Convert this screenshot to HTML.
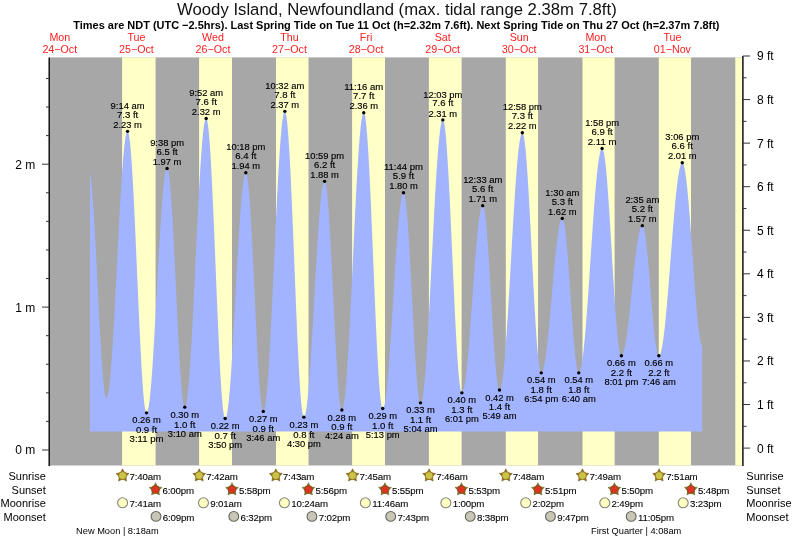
<!DOCTYPE html><html><head><meta charset="utf-8"><style>html,body{margin:0;padding:0;background:#fff;width:793px;height:539px;overflow:hidden}svg{display:block;will-change:transform}text{font-family:"Liberation Sans",sans-serif}</style></head><body>
<svg width="793" height="539" viewBox="0 0 793 539">
<text x="177.1" y="14.8" font-size="16.9" textLength="439.6" lengthAdjust="spacingAndGlyphs" fill="#111">Woody Island, Newfoundland (max. tidal range 2.38m 7.8ft)</text>
<text x="73.3" y="29.2" font-size="11.2" font-weight="bold" textLength="646.2" lengthAdjust="spacingAndGlyphs" fill="#000">Times are NDT (UTC &#8722;2.5hrs). Last Spring Tide on Tue 11 Oct (h=2.32m 7.6ft). Next Spring Tide on Thu 27 Oct (h=2.37m 7.8ft)</text>
<text x="59.8" y="41.4" font-size="10.7" text-anchor="middle" fill="#ff2020">Mon</text>
<text x="59.8" y="52.7" font-size="10.7" text-anchor="middle" fill="#ff2020">24&#8722;Oct</text>
<text x="136.4" y="41.4" font-size="10.7" text-anchor="middle" fill="#ff2020">Tue</text>
<text x="136.4" y="52.7" font-size="10.7" text-anchor="middle" fill="#ff2020">25&#8722;Oct</text>
<text x="213.0" y="41.4" font-size="10.7" text-anchor="middle" fill="#ff2020">Wed</text>
<text x="213.0" y="52.7" font-size="10.7" text-anchor="middle" fill="#ff2020">26&#8722;Oct</text>
<text x="289.5" y="41.4" font-size="10.7" text-anchor="middle" fill="#ff2020">Thu</text>
<text x="289.5" y="52.7" font-size="10.7" text-anchor="middle" fill="#ff2020">27&#8722;Oct</text>
<text x="366.1" y="41.4" font-size="10.7" text-anchor="middle" fill="#ff2020">Fri</text>
<text x="366.1" y="52.7" font-size="10.7" text-anchor="middle" fill="#ff2020">28&#8722;Oct</text>
<text x="442.7" y="41.4" font-size="10.7" text-anchor="middle" fill="#ff2020">Sat</text>
<text x="442.7" y="52.7" font-size="10.7" text-anchor="middle" fill="#ff2020">29&#8722;Oct</text>
<text x="519.2" y="41.4" font-size="10.7" text-anchor="middle" fill="#ff2020">Sun</text>
<text x="519.2" y="52.7" font-size="10.7" text-anchor="middle" fill="#ff2020">30&#8722;Oct</text>
<text x="595.8" y="41.4" font-size="10.7" text-anchor="middle" fill="#ff2020">Mon</text>
<text x="595.8" y="52.7" font-size="10.7" text-anchor="middle" fill="#ff2020">31&#8722;Oct</text>
<text x="672.4" y="41.4" font-size="10.7" text-anchor="middle" fill="#ff2020">Tue</text>
<text x="672.4" y="52.7" font-size="10.7" text-anchor="middle" fill="#ff2020">01&#8722;Nov</text>
<rect x="49.6" y="57.4" width="692.7" height="408.1" fill="#a7a7a7"/>
<rect x="122.1" y="57.4" width="33.5" height="408.1" fill="#ffffc8"/>
<rect x="199.1" y="57.4" width="32.9" height="408.1" fill="#ffffc8"/>
<rect x="276.0" y="57.4" width="32.5" height="408.1" fill="#ffffc8"/>
<rect x="352.1" y="57.4" width="32.9" height="408.1" fill="#ffffc8"/>
<rect x="428.9" y="57.4" width="32.7" height="408.1" fill="#ffffc8"/>
<rect x="505.8" y="57.4" width="32.2" height="408.1" fill="#ffffc8"/>
<rect x="582.5" y="57.4" width="32.1" height="408.1" fill="#ffffc8"/>
<rect x="658.8" y="57.4" width="32.2" height="408.1" fill="#ffffc8"/>
<rect x="735.3" y="57.4" width="6.7" height="408.1" fill="#ffffc8"/>
<path d="M90.00,431.50 L90.00,172.76 L90.25,174.11 L90.50,175.68 L90.75,177.46 L91.00,179.44 L91.25,181.63 L91.50,184.01 L91.75,186.59 L92.00,189.36 L92.25,192.31 L92.50,195.44 L92.75,198.73 L93.00,202.20 L93.25,205.82 L93.50,209.59 L93.75,213.51 L94.00,217.56 L94.25,221.74 L94.50,226.04 L94.75,230.46 L95.00,234.97 L95.25,239.58 L95.50,244.28 L95.75,249.05 L96.00,253.89 L96.25,258.79 L96.50,263.73 L96.75,268.72 L97.00,273.73 L97.25,278.76 L97.50,283.80 L97.75,288.84 L98.00,293.87 L98.25,298.88 L98.50,303.86 L98.75,308.80 L99.00,313.69 L99.25,318.53 L99.50,323.29 L99.75,327.98 L100.00,332.58 L100.25,337.08 L100.50,341.48 L100.75,345.77 L101.00,349.94 L101.25,353.98 L101.50,357.88 L101.75,361.63 L102.00,365.24 L102.25,368.68 L102.50,371.96 L102.75,375.07 L103.00,378.00 L103.25,380.75 L103.50,383.30 L103.75,385.67 L104.00,387.83 L104.25,389.79 L104.50,391.55 L104.75,393.09 L105.00,394.42 L105.25,395.54 L105.51,396.44 L105.76,397.11 L106.01,397.57 L106.26,397.81 L106.40,397.84 L106.51,397.82 L106.76,397.65 L107.01,397.29 L107.26,396.76 L107.51,396.03 L107.76,395.13 L108.01,394.05 L108.26,392.79 L108.51,391.35 L108.76,389.74 L109.01,387.96 L109.26,386.00 L109.51,383.88 L109.76,381.59 L110.01,379.15 L110.26,376.54 L110.51,373.78 L110.76,370.87 L111.01,367.82 L111.26,364.62 L111.51,361.28 L111.76,357.81 L112.01,354.21 L112.26,350.49 L112.51,346.65 L112.76,342.70 L113.01,338.64 L113.26,334.47 L113.51,330.21 L113.76,325.86 L114.01,321.43 L114.26,316.92 L114.51,312.33 L114.76,307.68 L115.01,302.97 L115.26,298.21 L115.51,293.40 L115.76,288.55 L116.01,283.67 L116.26,278.76 L116.51,273.84 L116.76,268.90 L117.01,263.95 L117.26,259.01 L117.51,254.07 L117.76,249.14 L118.01,244.24 L118.26,239.37 L118.51,234.53 L118.76,229.73 L119.01,224.98 L119.26,220.29 L119.51,215.65 L119.76,211.09 L120.01,206.59 L120.26,202.18 L120.51,197.85 L120.76,193.62 L121.01,189.48 L121.26,185.45 L121.51,181.52 L121.76,177.71 L122.01,174.02 L122.26,170.46 L122.51,167.02 L122.76,163.72 L123.01,160.56 L123.26,157.54 L123.51,154.67 L123.76,151.95 L124.01,149.38 L124.26,146.98 L124.51,144.73 L124.76,142.65 L125.01,140.74 L125.26,139.00 L125.51,137.44 L125.76,136.04 L126.01,134.83 L126.26,133.79 L126.51,132.94 L126.76,132.26 L127.01,131.77 L127.26,131.46 L127.51,131.34 L127.56,131.33 L127.76,131.41 L128.01,131.73 L128.26,132.29 L128.51,133.09 L128.76,134.12 L129.01,135.39 L129.26,136.90 L129.51,138.63 L129.76,140.60 L130.01,142.79 L130.26,145.20 L130.51,147.83 L130.76,150.67 L131.01,153.73 L131.26,156.98 L131.51,160.43 L131.76,164.07 L132.01,167.90 L132.26,171.90 L132.51,176.08 L132.76,180.42 L133.01,184.92 L133.26,189.56 L133.51,194.35 L133.76,199.27 L134.01,204.32 L134.26,209.48 L134.51,214.75 L134.76,220.12 L135.01,225.58 L135.26,231.11 L135.51,236.72 L135.76,242.39 L136.02,248.11 L136.27,253.86 L136.52,259.66 L136.77,265.47 L137.02,271.29 L137.27,277.11 L137.52,282.93 L137.77,288.73 L138.02,294.50 L138.27,300.23 L138.52,305.91 L138.77,311.53 L139.02,317.09 L139.27,322.57 L139.52,327.96 L139.77,333.26 L140.02,338.45 L140.27,343.53 L140.52,348.49 L140.77,353.32 L141.02,358.00 L141.27,362.54 L141.52,366.93 L141.77,371.15 L142.02,375.20 L142.27,379.08 L142.52,382.77 L142.77,386.27 L143.02,389.58 L143.27,392.69 L143.52,395.59 L143.77,398.28 L144.02,400.75 L144.27,403.00 L144.52,405.03 L144.77,406.83 L145.02,408.40 L145.27,409.73 L145.52,410.83 L145.77,411.70 L146.02,412.32 L146.27,412.70 L146.52,412.85 L146.54,412.85 L146.77,412.77 L147.02,412.52 L147.27,412.09 L147.52,411.49 L147.77,410.71 L148.02,409.75 L148.27,408.62 L148.52,407.32 L148.77,405.85 L149.02,404.21 L149.27,402.40 L149.52,400.43 L149.77,398.30 L150.02,396.02 L150.27,393.58 L150.52,390.99 L150.77,388.26 L151.02,385.38 L151.27,382.37 L151.52,379.22 L151.77,375.94 L152.02,372.54 L152.27,369.02 L152.52,365.38 L152.77,361.64 L153.02,357.79 L153.27,353.84 L153.52,349.80 L153.77,345.68 L154.02,341.48 L154.27,337.20 L154.52,332.85 L154.77,328.44 L155.02,323.98 L155.27,319.47 L155.52,314.92 L155.77,310.33 L156.02,305.71 L156.27,301.07 L156.52,296.42 L156.77,291.76 L157.02,287.09 L157.27,282.43 L157.52,277.79 L157.77,273.16 L158.02,268.56 L158.27,263.99 L158.52,259.45 L158.77,254.97 L159.02,250.53 L159.27,246.16 L159.52,241.85 L159.77,237.61 L160.02,233.45 L160.27,229.37 L160.52,225.38 L160.77,221.48 L161.02,217.69 L161.27,214.00 L161.52,210.43 L161.77,206.97 L162.02,203.63 L162.27,200.42 L162.52,197.34 L162.77,194.40 L163.02,191.60 L163.27,188.94 L163.52,186.43 L163.77,184.08 L164.02,181.88 L164.27,179.83 L164.52,177.95 L164.77,176.23 L165.02,174.68 L165.27,173.30 L165.52,172.09 L165.77,171.05 L166.02,170.19 L166.27,169.50 L166.53,168.99 L166.78,168.66 L167.03,168.50 L167.12,168.49 L167.28,168.53 L167.53,168.80 L167.78,169.30 L168.03,170.04 L168.28,171.00 L168.53,172.20 L168.78,173.63 L169.03,175.29 L169.28,177.17 L169.53,179.26 L169.78,181.58 L170.03,184.10 L170.28,186.83 L170.53,189.75 L170.78,192.88 L171.03,196.19 L171.28,199.68 L171.53,203.34 L171.78,207.18 L172.03,211.17 L172.28,215.31 L172.53,219.60 L172.78,224.03 L173.03,228.58 L173.28,233.24 L173.53,238.02 L173.78,242.89 L174.03,247.85 L174.28,252.89 L174.53,258.01 L174.78,263.18 L175.03,268.39 L175.28,273.65 L175.53,278.94 L175.78,284.24 L176.03,289.55 L176.28,294.85 L176.53,300.15 L176.78,305.41 L177.03,310.65 L177.28,315.84 L177.53,320.97 L177.78,326.03 L178.03,331.03 L178.28,335.93 L178.53,340.74 L178.78,345.45 L179.03,350.04 L179.28,354.50 L179.53,358.84 L179.78,363.04 L180.03,367.08 L180.28,370.97 L180.53,374.70 L180.78,378.25 L181.03,381.62 L181.28,384.81 L181.53,387.80 L181.78,390.60 L182.03,393.20 L182.28,395.58 L182.53,397.75 L182.78,399.71 L183.03,401.44 L183.28,402.95 L183.53,404.23 L183.78,405.27 L184.03,406.09 L184.28,406.67 L184.53,407.02 L184.77,407.13 L184.78,407.13 L185.03,407.03 L185.28,406.73 L185.53,406.23 L185.78,405.55 L186.03,404.67 L186.28,403.60 L186.53,402.34 L186.78,400.89 L187.03,399.25 L187.28,397.43 L187.53,395.43 L187.78,393.25 L188.03,390.89 L188.28,388.36 L188.53,385.66 L188.78,382.79 L189.03,379.76 L189.28,376.58 L189.53,373.24 L189.78,369.75 L190.03,366.11 L190.28,362.34 L190.53,358.43 L190.78,354.40 L191.03,350.23 L191.28,345.96 L191.53,341.56 L191.78,337.07 L192.03,332.47 L192.28,327.78 L192.53,323.00 L192.78,318.14 L193.03,313.20 L193.28,308.20 L193.53,303.13 L193.78,298.01 L194.03,292.85 L194.28,287.64 L194.53,282.40 L194.78,277.13 L195.03,271.84 L195.28,266.54 L195.53,261.24 L195.78,255.94 L196.03,250.64 L196.28,245.37 L196.53,240.12 L196.78,234.89 L197.03,229.71 L197.29,224.57 L197.54,219.48 L197.79,214.45 L198.04,209.49 L198.29,204.59 L198.54,199.78 L198.79,195.05 L199.04,190.41 L199.29,185.87 L199.54,181.44 L199.79,177.11 L200.04,172.90 L200.29,168.82 L200.54,164.85 L200.79,161.02 L201.04,157.33 L201.29,153.78 L201.54,150.38 L201.79,147.13 L202.04,144.04 L202.29,141.10 L202.54,138.34 L202.79,135.73 L203.04,133.31 L203.29,131.05 L203.54,128.97 L203.79,127.08 L204.04,125.37 L204.29,123.84 L204.54,122.50 L204.79,121.35 L205.04,120.39 L205.29,119.63 L205.54,119.05 L205.79,118.68 L206.04,118.49 L206.15,118.47 L206.29,118.51 L206.54,118.78 L206.79,119.31 L207.04,120.09 L207.29,121.12 L207.54,122.40 L207.79,123.93 L208.04,125.71 L208.29,127.73 L208.54,129.99 L208.79,132.49 L209.04,135.22 L209.29,138.17 L209.54,141.35 L209.79,144.75 L210.04,148.35 L210.29,152.16 L210.54,156.17 L210.79,160.37 L211.04,164.75 L211.29,169.31 L211.54,174.04 L211.79,178.93 L212.04,183.97 L212.29,189.16 L212.54,194.48 L212.79,199.93 L213.04,205.49 L213.29,211.16 L213.54,216.93 L213.79,222.79 L214.04,228.73 L214.29,234.73 L214.54,240.79 L214.79,246.90 L215.04,253.04 L215.29,259.21 L215.54,265.40 L215.79,271.59 L216.04,277.78 L216.29,283.95 L216.54,290.10 L216.79,296.20 L217.04,302.27 L217.29,308.27 L217.54,314.20 L217.79,320.06 L218.04,325.83 L218.29,331.51 L218.54,337.07 L218.79,342.52 L219.04,347.84 L219.29,353.03 L219.54,358.07 L219.79,362.96 L220.04,367.69 L220.29,372.25 L220.54,376.64 L220.79,380.84 L221.04,384.85 L221.29,388.66 L221.54,392.27 L221.79,395.66 L222.04,398.84 L222.29,401.80 L222.54,404.53 L222.79,407.03 L223.04,409.29 L223.29,411.31 L223.54,413.09 L223.79,414.62 L224.04,415.91 L224.29,416.94 L224.54,417.72 L224.79,418.25 L225.04,418.52 L225.18,418.56 L225.29,418.54 L225.54,418.38 L225.79,418.03 L226.04,417.51 L226.29,416.81 L226.54,415.94 L226.79,414.89 L227.04,413.67 L227.29,412.27 L227.54,410.71 L227.80,408.98 L228.05,407.09 L228.30,405.03 L228.55,402.82 L228.80,400.45 L229.05,397.93 L229.30,395.26 L229.55,392.45 L229.80,389.50 L230.05,386.41 L230.30,383.19 L230.55,379.84 L230.80,376.37 L231.05,372.78 L231.30,369.08 L231.55,365.28 L231.80,361.37 L232.05,357.37 L232.30,353.28 L232.55,349.10 L232.80,344.85 L233.05,340.53 L233.30,336.14 L233.55,331.69 L233.80,327.19 L234.05,322.65 L234.30,318.06 L234.55,313.45 L234.80,308.80 L235.05,304.14 L235.30,299.47 L235.55,294.79 L235.80,290.11 L236.05,285.44 L236.30,280.79 L236.55,276.15 L236.80,271.55 L237.05,266.98 L237.30,262.45 L237.55,257.97 L237.80,253.54 L238.05,249.18 L238.30,244.88 L238.55,240.66 L238.80,236.51 L239.05,232.45 L239.30,228.49 L239.55,224.62 L239.80,220.85 L240.05,217.20 L240.30,213.65 L240.55,210.23 L240.80,206.93 L241.05,203.75 L241.30,200.71 L241.55,197.81 L241.80,195.05 L242.05,192.44 L242.30,189.98 L242.55,187.67 L242.80,185.51 L243.05,183.52 L243.30,181.68 L243.55,180.02 L243.80,178.52 L244.05,177.19 L244.30,176.03 L244.55,175.05 L244.80,174.24 L245.05,173.61 L245.30,173.15 L245.55,172.87 L245.80,172.77 L245.82,172.77 L246.05,172.88 L246.30,173.23 L246.55,173.82 L246.80,174.65 L247.05,175.71 L247.30,177.02 L247.55,178.55 L247.80,180.32 L248.05,182.32 L248.30,184.53 L248.55,186.97 L248.80,189.62 L249.05,192.47 L249.30,195.53 L249.55,198.79 L249.80,202.23 L250.05,205.86 L250.30,209.66 L250.55,213.62 L250.80,217.75 L251.05,222.03 L251.30,226.45 L251.55,231.00 L251.80,235.68 L252.05,240.47 L252.30,245.37 L252.55,250.36 L252.80,255.44 L253.05,260.59 L253.30,265.80 L253.55,271.07 L253.80,276.38 L254.05,281.72 L254.30,287.09 L254.55,292.46 L254.80,297.83 L255.05,303.19 L255.30,308.53 L255.55,313.84 L255.80,319.10 L256.05,324.31 L256.30,329.45 L256.55,334.51 L256.80,339.49 L257.05,344.37 L257.30,349.15 L257.55,353.81 L257.80,358.35 L258.05,362.75 L258.30,367.01 L258.56,371.12 L258.81,375.06 L259.06,378.84 L259.31,382.44 L259.56,385.86 L259.81,389.09 L260.06,392.12 L260.31,394.95 L260.56,397.57 L260.81,399.97 L261.06,402.16 L261.31,404.12 L261.56,405.86 L261.81,407.36 L262.06,408.64 L262.31,409.67 L262.56,410.47 L262.81,411.02 L263.06,411.34 L263.26,411.42 L263.31,411.41 L263.56,411.27 L263.81,410.94 L264.06,410.40 L264.31,409.67 L264.56,408.74 L264.81,407.62 L265.06,406.30 L265.31,404.79 L265.56,403.09 L265.81,401.20 L266.06,399.13 L266.31,396.88 L266.56,394.44 L266.81,391.83 L267.06,389.05 L267.31,386.10 L267.56,382.98 L267.81,379.70 L268.06,376.26 L268.31,372.68 L268.56,368.94 L268.81,365.06 L269.06,361.05 L269.31,356.90 L269.56,352.63 L269.81,348.24 L270.06,343.73 L270.31,339.11 L270.56,334.39 L270.81,329.57 L271.06,324.66 L271.31,319.67 L271.56,314.60 L271.81,309.46 L272.06,304.26 L272.31,299.00 L272.56,293.69 L272.81,288.34 L273.06,282.95 L273.31,277.53 L273.56,272.09 L273.81,266.64 L274.06,261.18 L274.31,255.72 L274.56,250.27 L274.81,244.84 L275.06,239.42 L275.31,234.03 L275.56,228.68 L275.81,223.38 L276.06,218.12 L276.31,212.92 L276.56,207.79 L276.81,202.72 L277.06,197.74 L277.31,192.84 L277.56,188.03 L277.81,183.31 L278.06,178.70 L278.31,174.20 L278.56,169.81 L278.81,165.55 L279.06,161.41 L279.31,157.41 L279.56,153.54 L279.81,149.81 L280.06,146.24 L280.31,142.81 L280.56,139.55 L280.81,136.44 L281.06,133.50 L281.31,130.73 L281.56,128.13 L281.81,125.71 L282.06,123.46 L282.31,121.40 L282.56,119.53 L282.81,117.84 L283.06,116.35 L283.31,115.04 L283.56,113.93 L283.81,113.02 L284.06,112.30 L284.31,111.78 L284.56,111.45 L284.81,111.33 L284.85,111.33 L285.06,111.43 L285.31,111.78 L285.56,112.40 L285.81,113.27 L286.06,114.41 L286.31,115.79 L286.56,117.44 L286.81,119.33 L287.06,121.46 L287.31,123.84 L287.56,126.46 L287.81,129.32 L288.06,132.40 L288.31,135.71 L288.56,139.24 L288.81,142.98 L289.07,146.92 L289.32,151.07 L289.57,155.41 L289.82,159.93 L290.07,164.63 L290.32,169.51 L290.57,174.54 L290.82,179.72 L291.07,185.05 L291.32,190.52 L291.57,196.11 L291.82,201.81 L292.07,207.63 L292.32,213.54 L292.57,219.53 L292.82,225.60 L293.07,231.74 L293.32,237.93 L293.57,244.17 L293.82,250.44 L294.07,256.74 L294.32,263.04 L294.57,269.35 L294.82,275.65 L295.07,281.93 L295.32,288.19 L295.57,294.40 L295.82,300.56 L296.07,306.65 L296.32,312.68 L296.57,318.62 L296.82,324.47 L297.07,330.22 L297.32,335.85 L297.57,341.36 L297.82,346.75 L298.07,351.99 L298.32,357.08 L298.57,362.01 L298.82,366.78 L299.07,371.37 L299.32,375.78 L299.57,380.00 L299.82,384.02 L300.07,387.84 L300.32,391.45 L300.57,394.84 L300.82,398.01 L301.07,400.95 L301.32,403.66 L301.57,406.13 L301.82,408.36 L302.07,410.34 L302.32,412.08 L302.57,413.56 L302.82,414.79 L303.07,415.76 L303.32,416.48 L303.57,416.93 L303.82,417.12 L303.88,417.13 L304.07,417.08 L304.32,416.87 L304.57,416.49 L304.82,415.94 L305.07,415.22 L305.32,414.33 L305.57,413.28 L305.82,412.06 L306.07,410.68 L306.32,409.14 L306.57,407.44 L306.82,405.58 L307.07,403.57 L307.32,401.41 L307.57,399.11 L307.82,396.65 L308.07,394.06 L308.32,391.33 L308.57,388.47 L308.82,385.48 L309.07,382.37 L309.32,379.13 L309.57,375.78 L309.82,372.32 L310.07,368.76 L310.32,365.09 L310.57,361.33 L310.82,357.48 L311.07,353.55 L311.32,349.53 L311.57,345.45 L311.82,341.30 L312.07,337.08 L312.32,332.82 L312.57,328.50 L312.82,324.14 L313.07,319.75 L313.32,315.33 L313.57,310.88 L313.82,306.42 L314.07,301.94 L314.32,297.47 L314.57,292.99 L314.82,288.52 L315.07,284.07 L315.32,279.65 L315.57,275.24 L315.82,270.88 L316.07,266.55 L316.32,262.28 L316.57,258.05 L316.82,253.89 L317.07,249.79 L317.32,245.76 L317.57,241.81 L317.82,237.94 L318.07,234.16 L318.32,230.47 L318.57,226.89 L318.82,223.41 L319.07,220.03 L319.32,216.77 L319.58,213.63 L319.83,210.62 L320.08,207.73 L320.33,204.97 L320.58,202.35 L320.83,199.87 L321.08,197.53 L321.33,195.34 L321.58,193.30 L321.83,191.41 L322.08,189.68 L322.33,188.11 L322.58,186.69 L322.83,185.44 L323.08,184.36 L323.33,183.43 L323.58,182.68 L323.83,182.09 L324.08,181.67 L324.33,181.43 L324.57,181.35 L324.58,181.35 L324.83,181.48 L325.08,181.84 L325.33,182.44 L325.58,183.27 L325.83,184.34 L326.08,185.63 L326.33,187.15 L326.58,188.90 L326.83,190.87 L327.08,193.05 L327.33,195.45 L327.58,198.05 L327.83,200.86 L328.08,203.86 L328.33,207.05 L328.58,210.42 L328.83,213.97 L329.08,217.69 L329.33,221.57 L329.58,225.60 L329.83,229.78 L330.08,234.10 L330.33,238.54 L330.58,243.10 L330.83,247.76 L331.08,252.53 L331.33,257.39 L331.58,262.32 L331.83,267.33 L332.08,272.39 L332.33,277.50 L332.58,282.65 L332.83,287.82 L333.08,293.01 L333.33,298.21 L333.58,303.40 L333.83,308.58 L334.08,313.73 L334.33,318.84 L334.58,323.90 L334.83,328.91 L335.08,333.84 L335.33,338.70 L335.58,343.47 L335.83,348.14 L336.08,352.70 L336.33,357.15 L336.58,361.46 L336.83,365.64 L337.08,369.68 L337.33,373.56 L337.58,377.29 L337.83,380.84 L338.08,384.22 L338.33,387.41 L338.58,390.42 L338.83,393.23 L339.08,395.83 L339.33,398.23 L339.58,400.42 L339.83,402.39 L340.08,404.15 L340.33,405.67 L340.58,406.97 L340.83,408.04 L341.08,408.88 L341.33,409.49 L341.58,409.85 L341.83,409.99 L341.85,409.99 L342.08,409.90 L342.33,409.63 L342.58,409.16 L342.83,408.51 L343.08,407.66 L343.33,406.63 L343.58,405.41 L343.83,404.01 L344.08,402.42 L344.33,400.65 L344.58,398.70 L344.83,396.58 L345.08,394.28 L345.33,391.81 L345.58,389.17 L345.83,386.37 L346.08,383.40 L346.33,380.28 L346.58,377.01 L346.83,373.59 L347.08,370.02 L347.33,366.32 L347.58,362.48 L347.83,358.51 L348.08,354.41 L348.33,350.20 L348.58,345.87 L348.83,341.43 L349.08,336.89 L349.33,332.25 L349.58,327.52 L349.83,322.71 L350.08,317.82 L350.34,312.85 L350.59,307.82 L350.84,302.73 L351.09,297.58 L351.34,292.39 L351.59,287.16 L351.84,281.89 L352.09,276.60 L352.34,271.29 L352.59,265.97 L352.84,260.64 L353.09,255.31 L353.34,249.99 L353.59,244.69 L353.84,239.40 L354.09,234.15 L354.34,228.93 L354.59,223.75 L354.84,218.62 L355.09,213.54 L355.34,208.53 L355.59,203.58 L355.84,198.71 L356.09,193.92 L356.34,189.21 L356.59,184.60 L356.84,180.09 L357.09,175.68 L357.34,171.38 L357.59,167.20 L357.84,163.14 L358.09,159.20 L358.34,155.40 L358.59,151.73 L358.84,148.20 L359.09,144.82 L359.34,141.59 L359.59,138.51 L359.84,135.59 L360.09,132.84 L360.34,130.24 L360.59,127.82 L360.84,125.57 L361.09,123.49 L361.34,121.59 L361.59,119.87 L361.84,118.33 L362.09,116.98 L362.34,115.81 L362.59,114.83 L362.84,114.04 L363.09,113.43 L363.34,113.02 L363.59,112.80 L363.76,112.76 L363.84,112.77 L364.09,112.98 L364.34,113.45 L364.59,114.16 L364.84,115.13 L365.09,116.35 L365.34,117.81 L365.59,119.52 L365.84,121.47 L366.09,123.66 L366.34,126.08 L366.59,128.74 L366.84,131.62 L367.09,134.72 L367.34,138.04 L367.59,141.56 L367.84,145.29 L368.09,149.22 L368.34,153.34 L368.59,157.64 L368.84,162.12 L369.09,166.77 L369.34,171.58 L369.59,176.54 L369.84,181.65 L370.09,186.89 L370.34,192.25 L370.59,197.74 L370.84,203.33 L371.09,209.02 L371.34,214.80 L371.59,220.66 L371.84,226.58 L372.09,232.57 L372.34,238.60 L372.59,244.67 L372.84,250.77 L373.09,256.88 L373.34,263.00 L373.59,269.12 L373.84,275.22 L374.09,281.30 L374.34,287.34 L374.59,293.33 L374.84,299.27 L375.09,305.15 L375.34,310.95 L375.59,316.66 L375.84,322.27 L376.09,327.79 L376.34,333.18 L376.59,338.45 L376.84,343.59 L377.09,348.59 L377.34,353.43 L377.59,358.12 L377.84,362.64 L378.09,366.98 L378.34,371.14 L378.59,375.12 L378.84,378.90 L379.09,382.47 L379.34,385.84 L379.59,388.99 L379.84,391.92 L380.09,394.63 L380.34,397.11 L380.59,399.35 L380.85,401.36 L381.10,403.12 L381.35,404.65 L381.60,405.92 L381.85,406.95 L382.10,407.72 L382.35,408.25 L382.60,408.52 L382.74,408.56 L382.85,408.54 L383.10,408.40 L383.35,408.10 L383.60,407.65 L383.85,407.05 L384.10,406.30 L384.35,405.39 L384.60,404.34 L384.85,403.13 L385.10,401.78 L385.35,400.29 L385.60,398.65 L385.85,396.88 L386.10,394.96 L386.35,392.91 L386.60,390.73 L386.85,388.43 L387.10,385.99 L387.35,383.44 L387.60,380.76 L387.85,377.98 L388.10,375.08 L388.35,372.07 L388.60,368.97 L388.85,365.76 L389.10,362.46 L389.35,359.08 L389.60,355.61 L389.85,352.06 L390.10,348.44 L390.35,344.75 L390.60,341.00 L390.85,337.19 L391.10,333.33 L391.35,329.42 L391.60,325.47 L391.85,321.49 L392.10,317.48 L392.35,313.44 L392.60,309.38 L392.85,305.31 L393.10,301.24 L393.35,297.16 L393.60,293.09 L393.85,289.03 L394.10,284.98 L394.35,280.96 L394.60,276.97 L394.85,273.01 L395.10,269.09 L395.35,265.21 L395.60,261.39 L395.85,257.62 L396.10,253.92 L396.35,250.28 L396.60,246.71 L396.85,243.22 L397.10,239.81 L397.35,236.49 L397.60,233.25 L397.85,230.12 L398.10,227.09 L398.35,224.16 L398.60,221.34 L398.85,218.63 L399.10,216.04 L399.35,213.58 L399.60,211.23 L399.85,209.02 L400.10,206.93 L400.35,204.98 L400.60,203.17 L400.85,201.49 L401.10,199.96 L401.35,198.57 L401.60,197.32 L401.85,196.23 L402.10,195.28 L402.35,194.48 L402.60,193.84 L402.85,193.34 L403.10,193.00 L403.35,192.82 L403.53,192.78 L403.60,192.79 L403.85,192.97 L404.10,193.37 L404.35,193.99 L404.60,194.84 L404.85,195.90 L405.10,197.18 L405.35,198.68 L405.60,200.39 L405.85,202.30 L406.10,204.42 L406.35,206.74 L406.60,209.25 L406.85,211.95 L407.10,214.83 L407.35,217.89 L407.60,221.12 L407.85,224.52 L408.10,228.07 L408.35,231.77 L408.60,235.61 L408.85,239.58 L409.10,243.68 L409.35,247.89 L409.60,252.21 L409.85,256.62 L410.10,261.13 L410.35,265.71 L410.60,270.36 L410.85,275.07 L411.10,279.83 L411.35,284.62 L411.61,289.44 L411.86,294.29 L412.11,299.13 L412.36,303.98 L412.61,308.81 L412.86,313.62 L413.11,318.40 L413.36,323.13 L413.61,327.81 L413.86,332.42 L414.11,336.96 L414.36,341.42 L414.61,345.78 L414.86,350.04 L415.11,354.20 L415.36,358.23 L415.61,362.13 L415.86,365.89 L416.11,369.51 L416.36,372.98 L416.61,376.28 L416.86,379.42 L417.11,382.39 L417.36,385.17 L417.61,387.77 L417.86,390.17 L418.11,392.38 L418.36,394.39 L418.61,396.19 L418.86,397.79 L419.11,399.17 L419.36,400.33 L419.61,401.27 L419.86,402.00 L420.11,402.50 L420.36,402.78 L420.54,402.84 L420.61,402.84 L420.86,402.70 L421.11,402.40 L421.36,401.91 L421.61,401.26 L421.86,400.42 L422.11,399.42 L422.36,398.24 L422.61,396.89 L422.86,395.38 L423.11,393.70 L423.36,391.85 L423.61,389.84 L423.86,387.67 L424.11,385.35 L424.36,382.87 L424.61,380.24 L424.86,377.46 L425.11,374.54 L425.36,371.47 L425.61,368.27 L425.86,364.94 L426.11,361.48 L426.36,357.89 L426.61,354.18 L426.86,350.36 L427.11,346.43 L427.36,342.39 L427.61,338.25 L427.86,334.02 L428.11,329.69 L428.36,325.28 L428.61,320.79 L428.86,316.23 L429.11,311.60 L429.36,306.90 L429.61,302.15 L429.86,297.35 L430.11,292.50 L430.36,287.62 L430.61,282.70 L430.86,277.76 L431.11,272.79 L431.36,267.82 L431.61,262.83 L431.86,257.84 L432.11,252.86 L432.36,247.88 L432.61,242.93 L432.86,237.99 L433.11,233.09 L433.36,228.22 L433.61,223.39 L433.86,218.61 L434.11,213.88 L434.36,209.21 L434.61,204.61 L434.86,200.08 L435.11,195.62 L435.36,191.24 L435.61,186.96 L435.86,182.76 L436.11,178.66 L436.36,174.67 L436.61,170.78 L436.86,167.01 L437.11,163.35 L437.36,159.81 L437.61,156.40 L437.86,153.12 L438.11,149.98 L438.36,146.98 L438.61,144.11 L438.86,141.39 L439.11,138.83 L439.36,136.41 L439.61,134.15 L439.86,132.05 L440.11,130.11 L440.36,128.33 L440.61,126.71 L440.86,125.27 L441.11,123.99 L441.36,122.89 L441.61,121.95 L441.86,121.19 L442.12,120.61 L442.37,120.20 L442.62,119.96 L442.82,119.90 L442.87,119.90 L443.12,120.06 L443.37,120.44 L443.62,121.06 L443.87,121.91 L444.12,122.99 L444.37,124.29 L444.62,125.82 L444.87,127.57 L445.12,129.54 L445.37,131.73 L445.62,134.13 L445.87,136.74 L446.12,139.55 L446.37,142.56 L446.62,145.76 L446.87,149.16 L447.12,152.73 L447.37,156.48 L447.62,160.40 L447.87,164.49 L448.12,168.73 L448.37,173.12 L448.62,177.65 L448.87,182.32 L449.12,187.11 L449.37,192.02 L449.62,197.04 L449.87,202.17 L450.12,207.38 L450.37,212.68 L450.62,218.05 L450.87,223.48 L451.12,228.98 L451.37,234.52 L451.62,240.09 L451.87,245.70 L452.12,251.32 L452.37,256.95 L452.62,262.58 L452.87,268.20 L453.12,273.80 L453.37,279.37 L453.62,284.90 L453.87,290.38 L454.12,295.81 L454.37,301.16 L454.62,306.44 L454.87,311.64 L455.12,316.74 L455.37,321.74 L455.62,326.63 L455.87,331.39 L456.12,336.03 L456.37,340.54 L456.62,344.90 L456.87,349.11 L457.12,353.16 L457.37,357.05 L457.62,360.76 L457.87,364.30 L458.12,367.65 L458.37,370.82 L458.62,373.79 L458.87,376.56 L459.12,379.12 L459.37,381.48 L459.62,383.62 L459.87,385.55 L460.12,387.25 L460.37,388.74 L460.62,389.99 L460.87,391.02 L461.12,391.83 L461.37,392.40 L461.62,392.73 L461.86,392.84 L461.87,392.84 L462.12,392.77 L462.37,392.56 L462.62,392.22 L462.87,391.76 L463.12,391.15 L463.37,390.42 L463.62,389.56 L463.87,388.57 L464.12,387.46 L464.37,386.21 L464.62,384.85 L464.87,383.36 L465.12,381.75 L465.37,380.03 L465.62,378.19 L465.87,376.24 L466.12,374.18 L466.37,372.02 L466.62,369.75 L466.87,367.38 L467.12,364.91 L467.37,362.35 L467.62,359.70 L467.87,356.96 L468.12,354.15 L468.37,351.25 L468.62,348.28 L468.87,345.24 L469.12,342.14 L469.37,338.97 L469.62,335.75 L469.87,332.48 L470.12,329.16 L470.37,325.79 L470.62,322.39 L470.87,318.96 L471.12,315.50 L471.37,312.01 L471.62,308.51 L471.87,304.99 L472.12,301.47 L472.37,297.94 L472.63,294.41 L472.88,290.89 L473.13,287.39 L473.38,283.90 L473.63,280.43 L473.88,276.99 L474.13,273.58 L474.38,270.20 L474.63,266.87 L474.88,263.58 L475.13,260.35 L475.38,257.17 L475.63,254.05 L475.88,250.99 L476.13,248.00 L476.38,245.09 L476.63,242.25 L476.88,239.49 L477.13,236.82 L477.38,234.23 L477.63,231.74 L477.88,229.35 L478.13,227.05 L478.38,224.86 L478.63,222.77 L478.88,220.79 L479.13,218.92 L479.38,217.17 L479.63,215.53 L479.88,214.01 L480.13,212.61 L480.38,211.34 L480.63,210.19 L480.88,209.17 L481.13,208.27 L481.38,207.51 L481.63,206.87 L481.88,206.37 L482.13,205.99 L482.38,205.75 L482.63,205.65 L482.70,205.64 L482.88,205.69 L483.13,205.93 L483.38,206.37 L483.63,207.01 L483.88,207.85 L484.13,208.89 L484.38,210.12 L484.63,211.54 L484.88,213.15 L485.13,214.95 L485.38,216.93 L485.63,219.08 L485.88,221.41 L486.13,223.90 L486.38,226.55 L486.63,229.36 L486.88,232.32 L487.13,235.43 L487.38,238.67 L487.63,242.03 L487.88,245.53 L488.13,249.13 L488.38,252.84 L488.63,256.65 L488.88,260.55 L489.13,264.53 L489.38,268.59 L489.63,272.70 L489.88,276.88 L490.13,281.09 L490.38,285.35 L490.63,289.63 L490.88,293.93 L491.13,298.24 L491.38,302.55 L491.63,306.85 L491.88,311.12 L492.13,315.37 L492.38,319.58 L492.63,323.74 L492.88,327.85 L493.13,331.89 L493.38,335.85 L493.63,339.74 L493.88,343.53 L494.13,347.22 L494.38,350.80 L494.63,354.27 L494.88,357.61 L495.13,360.82 L495.38,363.90 L495.63,366.83 L495.88,369.61 L496.13,372.23 L496.38,374.69 L496.63,376.99 L496.88,379.10 L497.13,381.05 L497.38,382.81 L497.63,384.38 L497.88,385.76 L498.13,386.96 L498.38,387.95 L498.63,388.75 L498.88,389.36 L499.13,389.76 L499.38,389.96 L499.51,389.98 L499.63,389.96 L499.88,389.81 L500.13,389.50 L500.38,389.05 L500.63,388.44 L500.88,387.68 L501.13,386.77 L501.38,385.71 L501.63,384.50 L501.88,383.15 L502.13,381.66 L502.38,380.02 L502.63,378.24 L502.88,376.32 L503.13,374.26 L503.39,372.08 L503.64,369.76 L503.89,367.31 L504.14,364.73 L504.39,362.04 L504.64,359.22 L504.89,356.29 L505.14,353.25 L505.39,350.09 L505.64,346.83 L505.89,343.47 L506.14,340.02 L506.39,336.46 L506.64,332.82 L506.89,329.10 L507.14,325.30 L507.39,321.41 L507.64,317.46 L507.89,313.44 L508.14,309.36 L508.39,305.23 L508.64,301.04 L508.89,296.80 L509.14,292.52 L509.39,288.21 L509.64,283.86 L509.89,279.49 L510.14,275.09 L510.39,270.68 L510.64,266.26 L510.89,261.83 L511.14,257.40 L511.39,252.98 L511.64,248.56 L511.89,244.16 L512.14,239.78 L512.39,235.43 L512.64,231.11 L512.89,226.82 L513.14,222.58 L513.39,218.38 L513.64,214.23 L513.89,210.14 L514.14,206.11 L514.39,202.14 L514.64,198.24 L514.89,194.42 L515.14,190.68 L515.39,187.02 L515.64,183.45 L515.89,179.98 L516.14,176.60 L516.39,173.32 L516.64,170.14 L516.89,167.07 L517.14,164.12 L517.39,161.28 L517.64,158.56 L517.89,155.96 L518.14,153.48 L518.39,151.14 L518.64,148.92 L518.89,146.84 L519.14,144.89 L519.39,143.08 L519.64,141.41 L519.89,139.89 L520.14,138.51 L520.39,137.27 L520.64,136.18 L520.89,135.24 L521.14,134.45 L521.39,133.81 L521.64,133.32 L521.89,132.99 L522.14,132.80 L522.32,132.76 L522.39,132.77 L522.64,132.93 L522.89,133.30 L523.14,133.88 L523.39,134.66 L523.64,135.64 L523.89,136.83 L524.14,138.21 L524.39,139.79 L524.64,141.57 L524.89,143.54 L525.14,145.70 L525.39,148.04 L525.64,150.56 L525.89,153.26 L526.14,156.13 L526.39,159.16 L526.64,162.36 L526.89,165.71 L527.14,169.22 L527.39,172.86 L527.64,176.65 L527.89,180.56 L528.14,184.60 L528.39,188.76 L528.64,193.03 L528.89,197.40 L529.14,201.86 L529.39,206.42 L529.64,211.05 L529.89,215.76 L530.14,220.53 L530.39,225.35 L530.64,230.22 L530.89,235.13 L531.14,240.08 L531.39,245.04 L531.64,250.02 L531.89,255.00 L532.14,259.97 L532.39,264.94 L532.64,269.88 L532.89,274.80 L533.14,279.68 L533.39,284.51 L533.64,289.28 L533.90,294.00 L534.15,298.64 L534.40,303.20 L534.65,307.68 L534.90,312.06 L535.15,316.34 L535.40,320.51 L535.65,324.57 L535.90,328.50 L536.15,332.30 L536.40,335.96 L536.65,339.48 L536.90,342.85 L537.15,346.07 L537.40,349.12 L537.65,352.01 L537.90,354.73 L538.15,357.27 L538.40,359.63 L538.65,361.81 L538.90,363.80 L539.15,365.60 L539.40,367.21 L539.65,368.62 L539.90,369.83 L540.15,370.83 L540.40,371.64 L540.65,372.24 L540.90,372.63 L541.15,372.82 L541.25,372.83 L541.40,372.82 L541.65,372.70 L541.90,372.47 L542.15,372.14 L542.40,371.70 L542.65,371.16 L542.90,370.51 L543.15,369.76 L543.40,368.90 L543.65,367.94 L543.90,366.88 L544.15,365.73 L544.40,364.47 L544.65,363.12 L544.90,361.67 L545.15,360.14 L545.40,358.51 L545.65,356.80 L545.90,355.00 L546.15,353.11 L546.40,351.15 L546.65,349.11 L546.90,347.00 L547.15,344.81 L547.40,342.56 L547.65,340.24 L547.90,337.86 L548.15,335.42 L548.40,332.93 L548.65,330.38 L548.90,327.79 L549.15,325.15 L549.40,322.47 L549.65,319.75 L549.90,317.00 L550.15,314.22 L550.40,311.41 L550.65,308.58 L550.90,305.73 L551.15,302.87 L551.40,300.00 L551.65,297.12 L551.90,294.24 L552.15,291.37 L552.40,288.50 L552.65,285.64 L552.90,282.79 L553.15,279.96 L553.40,277.15 L553.65,274.37 L553.90,271.62 L554.15,268.90 L554.40,266.22 L554.65,263.58 L554.90,260.98 L555.15,258.44 L555.40,255.94 L555.65,253.50 L555.90,251.12 L556.15,248.80 L556.40,246.55 L556.65,244.36 L556.90,242.25 L557.15,240.21 L557.40,238.24 L557.65,236.36 L557.90,234.56 L558.15,232.84 L558.40,231.22 L558.65,229.68 L558.90,228.23 L559.15,226.88 L559.40,225.62 L559.65,224.46 L559.90,223.40 L560.15,222.45 L560.40,221.59 L560.65,220.83 L560.90,220.18 L561.15,219.64 L561.40,219.20 L561.65,218.87 L561.90,218.64 L562.15,218.52 L562.31,218.50 L562.40,218.52 L562.65,218.67 L562.90,219.00 L563.15,219.51 L563.40,220.19 L563.65,221.04 L563.90,222.06 L564.15,223.25 L564.40,224.60 L564.66,226.11 L564.91,227.78 L565.16,229.61 L565.41,231.58 L565.66,233.70 L565.91,235.96 L566.16,238.36 L566.41,240.89 L566.66,243.54 L566.91,246.31 L567.16,249.19 L567.41,252.18 L567.66,255.26 L567.91,258.44 L568.16,261.70 L568.41,265.04 L568.66,268.45 L568.91,271.92 L569.16,275.45 L569.41,279.02 L569.66,282.63 L569.91,286.27 L570.16,289.93 L570.41,293.60 L570.66,297.28 L570.91,300.95 L571.16,304.61 L571.41,308.26 L571.66,311.87 L571.91,315.44 L572.16,318.98 L572.41,322.45 L572.66,325.87 L572.91,329.22 L573.16,332.49 L573.41,335.68 L573.66,338.78 L573.91,341.78 L574.16,344.68 L574.41,347.46 L574.66,350.13 L574.91,352.67 L575.16,355.08 L575.41,357.36 L575.66,359.50 L575.91,361.49 L576.16,363.34 L576.41,365.03 L576.66,366.56 L576.91,367.93 L577.16,369.14 L577.41,370.18 L577.66,371.05 L577.91,371.75 L578.16,372.28 L578.41,372.63 L578.66,372.81 L578.79,372.83 L578.91,372.82 L579.16,372.69 L579.41,372.44 L579.66,372.06 L579.91,371.55 L580.16,370.92 L580.41,370.16 L580.66,369.28 L580.91,368.27 L581.16,367.15 L581.41,365.90 L581.66,364.53 L581.91,363.04 L582.16,361.43 L582.41,359.71 L582.66,357.88 L582.91,355.94 L583.16,353.89 L583.41,351.73 L583.66,349.47 L583.91,347.11 L584.16,344.65 L584.41,342.09 L584.66,339.45 L584.91,336.71 L585.16,333.88 L585.41,330.98 L585.66,327.99 L585.91,324.92 L586.16,321.79 L586.41,318.58 L586.66,315.31 L586.91,311.97 L587.16,308.58 L587.41,305.13 L587.66,301.63 L587.91,298.08 L588.16,294.50 L588.41,290.87 L588.66,287.21 L588.91,283.52 L589.16,279.80 L589.41,276.06 L589.66,272.31 L589.91,268.54 L590.16,264.76 L590.41,260.98 L590.66,257.19 L590.91,253.41 L591.16,249.64 L591.41,245.88 L591.66,242.14 L591.91,238.42 L592.16,234.72 L592.41,231.06 L592.66,227.42 L592.91,223.83 L593.16,220.28 L593.41,216.77 L593.66,213.31 L593.91,209.91 L594.16,206.57 L594.41,203.28 L594.66,200.06 L594.91,196.91 L595.17,193.84 L595.42,190.84 L595.67,187.91 L595.92,185.08 L596.17,182.32 L596.42,179.66 L596.67,177.09 L596.92,174.61 L597.17,172.23 L597.42,169.96 L597.67,167.78 L597.92,165.71 L598.17,163.75 L598.42,161.90 L598.67,160.16 L598.92,158.54 L599.17,157.03 L599.42,155.64 L599.67,154.37 L599.92,153.22 L600.17,152.19 L600.42,151.29 L600.67,150.51 L600.92,149.86 L601.17,149.33 L601.42,148.93 L601.67,148.65 L601.92,148.51 L602.08,148.48 L602.17,148.49 L602.42,148.64 L602.67,148.96 L602.92,149.44 L603.17,150.10 L603.42,150.93 L603.67,151.92 L603.92,153.08 L604.17,154.41 L604.42,155.90 L604.67,157.54 L604.92,159.34 L605.17,161.30 L605.42,163.41 L605.67,165.66 L605.92,168.06 L606.17,170.59 L606.42,173.26 L606.67,176.06 L606.92,178.99 L607.17,182.04 L607.42,185.20 L607.67,188.48 L607.92,191.86 L608.17,195.34 L608.42,198.91 L608.67,202.58 L608.92,206.32 L609.17,210.14 L609.42,214.03 L609.67,217.98 L609.92,221.99 L610.17,226.05 L610.42,230.15 L610.67,234.29 L610.92,238.46 L611.17,242.65 L611.42,246.86 L611.67,251.07 L611.92,255.29 L612.17,259.50 L612.42,263.70 L612.67,267.88 L612.92,272.03 L613.17,276.15 L613.42,280.23 L613.67,284.26 L613.92,288.25 L614.17,292.17 L614.42,296.02 L614.67,299.80 L614.92,303.50 L615.17,307.12 L615.42,310.65 L615.67,314.08 L615.92,317.40 L616.17,320.62 L616.42,323.73 L616.67,326.71 L616.92,329.57 L617.17,332.31 L617.42,334.91 L617.67,337.37 L617.92,339.70 L618.17,341.87 L618.42,343.90 L618.67,345.78 L618.92,347.50 L619.17,349.06 L619.42,350.47 L619.67,351.71 L619.92,352.78 L620.17,353.69 L620.42,354.43 L620.67,355.00 L620.92,355.40 L621.17,355.63 L621.38,355.69 L621.42,355.68 L621.67,355.62 L621.92,355.47 L622.17,355.23 L622.42,354.89 L622.67,354.47 L622.92,353.95 L623.17,353.35 L623.42,352.66 L623.67,351.88 L623.92,351.02 L624.17,350.07 L624.42,349.03 L624.67,347.92 L624.92,346.72 L625.17,345.45 L625.42,344.10 L625.68,342.67 L625.93,341.17 L626.18,339.60 L626.43,337.96 L626.68,336.25 L626.93,334.48 L627.18,332.65 L627.43,330.76 L627.68,328.81 L627.93,326.81 L628.18,324.76 L628.43,322.66 L628.68,320.52 L628.93,318.33 L629.18,316.10 L629.43,313.84 L629.68,311.55 L629.93,309.23 L630.18,306.88 L630.43,304.50 L630.68,302.11 L630.93,299.70 L631.18,297.28 L631.43,294.85 L631.68,292.42 L631.93,289.98 L632.18,287.54 L632.43,285.11 L632.68,282.69 L632.93,280.27 L633.18,277.87 L633.43,275.49 L633.68,273.13 L633.93,270.80 L634.18,268.49 L634.43,266.21 L634.68,263.97 L634.93,261.77 L635.18,259.61 L635.43,257.49 L635.68,255.41 L635.93,253.39 L636.18,251.42 L636.43,249.50 L636.68,247.64 L636.93,245.85 L637.18,244.11 L637.43,242.44 L637.68,240.84 L637.93,239.31 L638.18,237.85 L638.43,236.47 L638.68,235.16 L638.93,233.93 L639.18,232.78 L639.43,231.71 L639.68,230.72 L639.93,229.82 L640.18,229.00 L640.43,228.27 L640.68,227.63 L640.93,227.08 L641.18,226.61 L641.43,226.24 L641.68,225.96 L641.93,225.76 L642.18,225.66 L642.33,225.65 L642.43,225.66 L642.68,225.79 L642.93,226.07 L643.18,226.49 L643.43,227.06 L643.68,227.77 L643.93,228.62 L644.18,229.62 L644.43,230.75 L644.68,232.02 L644.93,233.41 L645.18,234.94 L645.43,236.60 L645.68,238.37 L645.93,240.27 L646.18,242.27 L646.43,244.39 L646.68,246.61 L646.93,248.93 L647.18,251.35 L647.43,253.85 L647.68,256.44 L647.93,259.10 L648.18,261.84 L648.43,264.64 L648.68,267.50 L648.93,270.41 L649.18,273.37 L649.43,276.36 L649.68,279.39 L649.93,282.44 L650.18,285.52 L650.43,288.60 L650.68,291.69 L650.93,294.78 L651.18,297.85 L651.43,300.91 L651.68,303.95 L651.93,306.96 L652.18,309.93 L652.43,312.86 L652.68,315.73 L652.93,318.56 L653.18,321.31 L653.43,324.00 L653.68,326.62 L653.93,329.15 L654.18,331.59 L654.43,333.95 L654.68,336.20 L654.93,338.35 L655.18,340.40 L655.43,342.33 L655.68,344.15 L655.93,345.84 L656.18,347.42 L656.44,348.86 L656.69,350.17 L656.94,351.35 L657.19,352.39 L657.44,353.29 L657.69,354.05 L657.94,354.67 L658.19,355.14 L658.44,355.47 L658.69,355.65 L658.87,355.69 L658.94,355.68 L659.19,355.60 L659.44,355.41 L659.69,355.11 L659.94,354.70 L660.19,354.18 L660.44,353.56 L660.69,352.83 L660.94,351.99 L661.19,351.05 L661.44,350.01 L661.69,348.86 L661.94,347.62 L662.19,346.27 L662.44,344.83 L662.69,343.28 L662.94,341.65 L663.19,339.92 L663.44,338.10 L663.69,336.19 L663.94,334.20 L664.19,332.12 L664.44,329.95 L664.69,327.71 L664.94,325.39 L665.19,323.00 L665.44,320.53 L665.69,318.00 L665.94,315.40 L666.19,312.73 L666.44,310.01 L666.69,307.22 L666.94,304.39 L667.19,301.50 L667.44,298.57 L667.69,295.59 L667.94,292.57 L668.19,289.51 L668.44,286.42 L668.69,283.30 L668.94,280.15 L669.19,276.97 L669.44,273.78 L669.69,270.57 L669.94,267.35 L670.19,264.12 L670.44,260.88 L670.69,257.64 L670.94,254.40 L671.19,251.17 L671.44,247.95 L671.69,244.74 L671.94,241.55 L672.19,238.37 L672.44,235.22 L672.69,232.10 L672.94,229.01 L673.19,225.95 L673.44,222.93 L673.69,219.95 L673.94,217.01 L674.19,214.12 L674.44,211.29 L674.69,208.50 L674.94,205.78 L675.19,203.11 L675.44,200.51 L675.69,197.97 L675.94,195.51 L676.19,193.11 L676.44,190.79 L676.69,188.55 L676.94,186.38 L677.19,184.30 L677.44,182.30 L677.69,180.39 L677.94,178.57 L678.19,176.84 L678.44,175.20 L678.69,173.66 L678.94,172.21 L679.19,170.87 L679.44,169.62 L679.69,168.47 L679.94,167.42 L680.19,166.48 L680.44,165.64 L680.69,164.91 L680.94,164.29 L681.19,163.77 L681.44,163.36 L681.69,163.06 L681.94,162.86 L682.19,162.78 L682.27,162.77 L682.44,162.81 L682.69,162.97 L682.94,163.27 L683.19,163.71 L683.44,164.28 L683.69,164.98 L683.94,165.82 L684.19,166.78 L684.44,167.88 L684.69,169.11 L684.94,170.46 L685.19,171.94 L685.44,173.54 L685.69,175.26 L685.94,177.09 L686.19,179.05 L686.44,181.11 L686.69,183.28 L686.95,185.56 L687.20,187.94 L687.45,190.42 L687.70,192.99 L687.95,195.66 L688.20,198.41 L688.45,201.24 L688.70,204.16 L688.95,207.15 L689.20,210.21 L689.45,213.33 L689.70,216.52 L689.95,219.76 L690.20,223.05 L690.45,226.39 L690.70,229.77 L690.95,233.19 L691.20,236.64 L691.45,240.12 L691.70,243.62 L691.95,247.13 L692.20,250.66 L692.45,254.19 L692.70,257.72 L692.95,261.25 L693.20,264.77 L693.45,268.27 L693.70,271.75 L693.95,275.21 L694.20,278.64 L694.45,282.03 L694.70,285.38 L694.95,288.68 L695.20,291.94 L695.45,295.13 L695.70,298.27 L695.95,301.35 L696.20,304.35 L696.45,307.28 L696.70,310.14 L696.95,312.91 L697.20,315.59 L697.45,318.19 L697.70,320.69 L697.95,323.09 L698.20,325.39 L698.45,327.59 L698.70,329.67 L698.95,331.65 L699.20,333.51 L699.45,335.26 L699.70,336.88 L699.95,338.39 L700.20,339.77 L700.45,341.02 L700.70,342.15 L700.95,343.15 L701.20,344.01 L701.45,344.75 L701.70,345.35 L701.95,345.81 L702.20,346.14 L702.20,431.50 Z" fill="#a2b4ff"/>
<line x1="49.2" y1="57.4" x2="49.2" y2="466.0" stroke="#000" stroke-width="1.4"/>
<line x1="742.9" y1="56" x2="742.9" y2="466.0" stroke="#222" stroke-width="1.6"/>
<line x1="42.0" y1="450.00" x2="49.2" y2="450.00" stroke="#333" stroke-width="1"/>
<line x1="46.0" y1="421.42" x2="49.2" y2="421.42" stroke="#333" stroke-width="1"/>
<line x1="46.0" y1="392.84" x2="49.2" y2="392.84" stroke="#333" stroke-width="1"/>
<line x1="46.0" y1="364.26" x2="49.2" y2="364.26" stroke="#333" stroke-width="1"/>
<line x1="46.0" y1="335.68" x2="49.2" y2="335.68" stroke="#333" stroke-width="1"/>
<line x1="42.0" y1="307.10" x2="49.2" y2="307.10" stroke="#333" stroke-width="1"/>
<line x1="46.0" y1="278.52" x2="49.2" y2="278.52" stroke="#333" stroke-width="1"/>
<line x1="46.0" y1="249.94" x2="49.2" y2="249.94" stroke="#333" stroke-width="1"/>
<line x1="46.0" y1="221.36" x2="49.2" y2="221.36" stroke="#333" stroke-width="1"/>
<line x1="46.0" y1="192.78" x2="49.2" y2="192.78" stroke="#333" stroke-width="1"/>
<line x1="42.0" y1="164.20" x2="49.2" y2="164.20" stroke="#333" stroke-width="1"/>
<line x1="46.0" y1="135.62" x2="49.2" y2="135.62" stroke="#333" stroke-width="1"/>
<line x1="46.0" y1="107.04" x2="49.2" y2="107.04" stroke="#333" stroke-width="1"/>
<line x1="46.0" y1="78.46" x2="49.2" y2="78.46" stroke="#333" stroke-width="1"/>
<text x="35.3" y="168.6" font-size="12" text-anchor="end" fill="#000">2 m</text>
<text x="35.3" y="311.5" font-size="12" text-anchor="end" fill="#000">1 m</text>
<text x="35.3" y="454.4" font-size="12" text-anchor="end" fill="#000">0 m</text>
<line x1="742.9" y1="448.10" x2="750.0" y2="448.10" stroke="#333" stroke-width="1"/>
<text x="757" y="452.5" font-size="12" fill="#000">0 ft</text>
<line x1="742.9" y1="426.32" x2="746.5" y2="426.32" stroke="#333" stroke-width="1"/>
<line x1="742.9" y1="404.53" x2="750.0" y2="404.53" stroke="#333" stroke-width="1"/>
<text x="757" y="408.9" font-size="12" fill="#000">1 ft</text>
<line x1="742.9" y1="382.75" x2="746.5" y2="382.75" stroke="#333" stroke-width="1"/>
<line x1="742.9" y1="360.97" x2="750.0" y2="360.97" stroke="#333" stroke-width="1"/>
<text x="757" y="365.4" font-size="12" fill="#000">2 ft</text>
<line x1="742.9" y1="339.18" x2="746.5" y2="339.18" stroke="#333" stroke-width="1"/>
<line x1="742.9" y1="317.40" x2="750.0" y2="317.40" stroke="#333" stroke-width="1"/>
<text x="757" y="321.8" font-size="12" fill="#000">3 ft</text>
<line x1="742.9" y1="295.62" x2="746.5" y2="295.62" stroke="#333" stroke-width="1"/>
<line x1="742.9" y1="273.83" x2="750.0" y2="273.83" stroke="#333" stroke-width="1"/>
<text x="757" y="278.2" font-size="12" fill="#000">4 ft</text>
<line x1="742.9" y1="252.05" x2="746.5" y2="252.05" stroke="#333" stroke-width="1"/>
<line x1="742.9" y1="230.27" x2="750.0" y2="230.27" stroke="#333" stroke-width="1"/>
<text x="757" y="234.7" font-size="12" fill="#000">5 ft</text>
<line x1="742.9" y1="208.48" x2="746.5" y2="208.48" stroke="#333" stroke-width="1"/>
<line x1="742.9" y1="186.70" x2="750.0" y2="186.70" stroke="#333" stroke-width="1"/>
<text x="757" y="191.1" font-size="12" fill="#000">6 ft</text>
<line x1="742.9" y1="164.92" x2="746.5" y2="164.92" stroke="#333" stroke-width="1"/>
<line x1="742.9" y1="143.13" x2="750.0" y2="143.13" stroke="#333" stroke-width="1"/>
<text x="757" y="147.5" font-size="12" fill="#000">7 ft</text>
<line x1="742.9" y1="121.35" x2="746.5" y2="121.35" stroke="#333" stroke-width="1"/>
<line x1="742.9" y1="99.57" x2="750.0" y2="99.57" stroke="#333" stroke-width="1"/>
<text x="757" y="104.0" font-size="12" fill="#000">8 ft</text>
<line x1="742.9" y1="77.78" x2="746.5" y2="77.78" stroke="#333" stroke-width="1"/>
<line x1="742.9" y1="56.00" x2="750.0" y2="56.00" stroke="#333" stroke-width="1"/>
<text x="757" y="60.4" font-size="12" fill="#000">9 ft</text>
<circle cx="127.56" cy="131.33" r="1.7" fill="#000"/>
<text x="127.56" y="109.03" font-size="9.90" textLength="33.90" lengthAdjust="spacingAndGlyphs" text-anchor="middle" fill="#000" stroke="#000" stroke-width="0.15">9:14 am</text>
<text x="127.56" y="117.63" font-size="9.90" textLength="21.32" lengthAdjust="spacingAndGlyphs" text-anchor="middle" fill="#000" stroke="#000" stroke-width="0.15">7.3 ft</text>
<text x="127.56" y="127.93" font-size="9.90" textLength="28.65" lengthAdjust="spacingAndGlyphs" text-anchor="middle" fill="#000" stroke="#000" stroke-width="0.15">2.23 m</text>
<circle cx="146.54" cy="412.85" r="1.7" fill="#000"/>
<text x="146.54" y="423.45" font-size="9.90" textLength="28.65" lengthAdjust="spacingAndGlyphs" text-anchor="middle" fill="#000" stroke="#000" stroke-width="0.15">0.26 m</text>
<text x="146.54" y="433.25" font-size="9.90" textLength="21.32" lengthAdjust="spacingAndGlyphs" text-anchor="middle" fill="#000" stroke="#000" stroke-width="0.15">0.9 ft</text>
<text x="146.54" y="442.25" font-size="9.90" textLength="33.90" lengthAdjust="spacingAndGlyphs" text-anchor="middle" fill="#000" stroke="#000" stroke-width="0.15">3:11 pm</text>
<circle cx="167.12" cy="168.49" r="1.7" fill="#000"/>
<text x="167.12" y="146.19" font-size="9.90" textLength="33.90" lengthAdjust="spacingAndGlyphs" text-anchor="middle" fill="#000" stroke="#000" stroke-width="0.15">9:38 pm</text>
<text x="167.12" y="154.79" font-size="9.90" textLength="21.32" lengthAdjust="spacingAndGlyphs" text-anchor="middle" fill="#000" stroke="#000" stroke-width="0.15">6.5 ft</text>
<text x="167.12" y="165.09" font-size="9.90" textLength="28.65" lengthAdjust="spacingAndGlyphs" text-anchor="middle" fill="#000" stroke="#000" stroke-width="0.15">1.97 m</text>
<circle cx="184.77" cy="407.13" r="1.7" fill="#000"/>
<text x="184.77" y="417.73" font-size="9.90" textLength="28.65" lengthAdjust="spacingAndGlyphs" text-anchor="middle" fill="#000" stroke="#000" stroke-width="0.15">0.30 m</text>
<text x="184.77" y="427.53" font-size="9.90" textLength="21.32" lengthAdjust="spacingAndGlyphs" text-anchor="middle" fill="#000" stroke="#000" stroke-width="0.15">1.0 ft</text>
<text x="184.77" y="436.53" font-size="9.90" textLength="33.90" lengthAdjust="spacingAndGlyphs" text-anchor="middle" fill="#000" stroke="#000" stroke-width="0.15">3:10 am</text>
<circle cx="206.15" cy="118.47" r="1.7" fill="#000"/>
<text x="206.15" y="96.17" font-size="9.90" textLength="33.90" lengthAdjust="spacingAndGlyphs" text-anchor="middle" fill="#000" stroke="#000" stroke-width="0.15">9:52 am</text>
<text x="206.15" y="104.77" font-size="9.90" textLength="21.32" lengthAdjust="spacingAndGlyphs" text-anchor="middle" fill="#000" stroke="#000" stroke-width="0.15">7.6 ft</text>
<text x="206.15" y="115.07" font-size="9.90" textLength="28.65" lengthAdjust="spacingAndGlyphs" text-anchor="middle" fill="#000" stroke="#000" stroke-width="0.15">2.32 m</text>
<circle cx="225.18" cy="418.56" r="1.7" fill="#000"/>
<text x="225.18" y="429.16" font-size="9.90" textLength="28.65" lengthAdjust="spacingAndGlyphs" text-anchor="middle" fill="#000" stroke="#000" stroke-width="0.15">0.22 m</text>
<text x="225.18" y="438.96" font-size="9.90" textLength="21.32" lengthAdjust="spacingAndGlyphs" text-anchor="middle" fill="#000" stroke="#000" stroke-width="0.15">0.7 ft</text>
<text x="225.18" y="447.96" font-size="9.90" textLength="33.90" lengthAdjust="spacingAndGlyphs" text-anchor="middle" fill="#000" stroke="#000" stroke-width="0.15">3:50 pm</text>
<circle cx="245.82" cy="172.77" r="1.7" fill="#000"/>
<text x="245.82" y="150.47" font-size="9.90" textLength="39.14" lengthAdjust="spacingAndGlyphs" text-anchor="middle" fill="#000" stroke="#000" stroke-width="0.15">10:18 pm</text>
<text x="245.82" y="159.07" font-size="9.90" textLength="21.32" lengthAdjust="spacingAndGlyphs" text-anchor="middle" fill="#000" stroke="#000" stroke-width="0.15">6.4 ft</text>
<text x="245.82" y="169.37" font-size="9.90" textLength="28.65" lengthAdjust="spacingAndGlyphs" text-anchor="middle" fill="#000" stroke="#000" stroke-width="0.15">1.94 m</text>
<circle cx="263.26" cy="411.42" r="1.7" fill="#000"/>
<text x="263.26" y="422.02" font-size="9.90" textLength="28.65" lengthAdjust="spacingAndGlyphs" text-anchor="middle" fill="#000" stroke="#000" stroke-width="0.15">0.27 m</text>
<text x="263.26" y="431.82" font-size="9.90" textLength="21.32" lengthAdjust="spacingAndGlyphs" text-anchor="middle" fill="#000" stroke="#000" stroke-width="0.15">0.9 ft</text>
<text x="263.26" y="440.82" font-size="9.90" textLength="33.90" lengthAdjust="spacingAndGlyphs" text-anchor="middle" fill="#000" stroke="#000" stroke-width="0.15">3:46 am</text>
<circle cx="284.85" cy="111.33" r="1.7" fill="#000"/>
<text x="284.85" y="89.03" font-size="9.90" textLength="39.14" lengthAdjust="spacingAndGlyphs" text-anchor="middle" fill="#000" stroke="#000" stroke-width="0.15">10:32 am</text>
<text x="284.85" y="97.63" font-size="9.90" textLength="21.32" lengthAdjust="spacingAndGlyphs" text-anchor="middle" fill="#000" stroke="#000" stroke-width="0.15">7.8 ft</text>
<text x="284.85" y="107.93" font-size="9.90" textLength="28.65" lengthAdjust="spacingAndGlyphs" text-anchor="middle" fill="#000" stroke="#000" stroke-width="0.15">2.37 m</text>
<circle cx="303.88" cy="417.13" r="1.7" fill="#000"/>
<text x="303.88" y="427.73" font-size="9.90" textLength="28.65" lengthAdjust="spacingAndGlyphs" text-anchor="middle" fill="#000" stroke="#000" stroke-width="0.15">0.23 m</text>
<text x="303.88" y="437.53" font-size="9.90" textLength="21.32" lengthAdjust="spacingAndGlyphs" text-anchor="middle" fill="#000" stroke="#000" stroke-width="0.15">0.8 ft</text>
<text x="303.88" y="446.53" font-size="9.90" textLength="33.90" lengthAdjust="spacingAndGlyphs" text-anchor="middle" fill="#000" stroke="#000" stroke-width="0.15">4:30 pm</text>
<circle cx="324.57" cy="181.35" r="1.7" fill="#000"/>
<text x="324.57" y="159.05" font-size="9.90" textLength="39.14" lengthAdjust="spacingAndGlyphs" text-anchor="middle" fill="#000" stroke="#000" stroke-width="0.15">10:59 pm</text>
<text x="324.57" y="167.65" font-size="9.90" textLength="21.32" lengthAdjust="spacingAndGlyphs" text-anchor="middle" fill="#000" stroke="#000" stroke-width="0.15">6.2 ft</text>
<text x="324.57" y="177.95" font-size="9.90" textLength="28.65" lengthAdjust="spacingAndGlyphs" text-anchor="middle" fill="#000" stroke="#000" stroke-width="0.15">1.88 m</text>
<circle cx="341.85" cy="409.99" r="1.7" fill="#000"/>
<text x="341.85" y="420.59" font-size="9.90" textLength="28.65" lengthAdjust="spacingAndGlyphs" text-anchor="middle" fill="#000" stroke="#000" stroke-width="0.15">0.28 m</text>
<text x="341.85" y="430.39" font-size="9.90" textLength="21.32" lengthAdjust="spacingAndGlyphs" text-anchor="middle" fill="#000" stroke="#000" stroke-width="0.15">0.9 ft</text>
<text x="341.85" y="439.39" font-size="9.90" textLength="33.90" lengthAdjust="spacingAndGlyphs" text-anchor="middle" fill="#000" stroke="#000" stroke-width="0.15">4:24 am</text>
<circle cx="363.76" cy="112.76" r="1.7" fill="#000"/>
<text x="363.76" y="90.46" font-size="9.90" textLength="39.14" lengthAdjust="spacingAndGlyphs" text-anchor="middle" fill="#000" stroke="#000" stroke-width="0.15">11:16 am</text>
<text x="363.76" y="99.06" font-size="9.90" textLength="21.32" lengthAdjust="spacingAndGlyphs" text-anchor="middle" fill="#000" stroke="#000" stroke-width="0.15">7.7 ft</text>
<text x="363.76" y="109.36" font-size="9.90" textLength="28.65" lengthAdjust="spacingAndGlyphs" text-anchor="middle" fill="#000" stroke="#000" stroke-width="0.15">2.36 m</text>
<circle cx="382.74" cy="408.56" r="1.7" fill="#000"/>
<text x="382.74" y="419.16" font-size="9.90" textLength="28.65" lengthAdjust="spacingAndGlyphs" text-anchor="middle" fill="#000" stroke="#000" stroke-width="0.15">0.29 m</text>
<text x="382.74" y="428.96" font-size="9.90" textLength="21.32" lengthAdjust="spacingAndGlyphs" text-anchor="middle" fill="#000" stroke="#000" stroke-width="0.15">1.0 ft</text>
<text x="382.74" y="437.96" font-size="9.90" textLength="33.90" lengthAdjust="spacingAndGlyphs" text-anchor="middle" fill="#000" stroke="#000" stroke-width="0.15">5:13 pm</text>
<circle cx="403.53" cy="192.78" r="1.7" fill="#000"/>
<text x="403.53" y="170.48" font-size="9.90" textLength="39.14" lengthAdjust="spacingAndGlyphs" text-anchor="middle" fill="#000" stroke="#000" stroke-width="0.15">11:44 pm</text>
<text x="403.53" y="179.08" font-size="9.90" textLength="21.32" lengthAdjust="spacingAndGlyphs" text-anchor="middle" fill="#000" stroke="#000" stroke-width="0.15">5.9 ft</text>
<text x="403.53" y="189.38" font-size="9.90" textLength="28.65" lengthAdjust="spacingAndGlyphs" text-anchor="middle" fill="#000" stroke="#000" stroke-width="0.15">1.80 m</text>
<circle cx="420.54" cy="402.84" r="1.7" fill="#000"/>
<text x="420.54" y="413.44" font-size="9.90" textLength="28.65" lengthAdjust="spacingAndGlyphs" text-anchor="middle" fill="#000" stroke="#000" stroke-width="0.15">0.33 m</text>
<text x="420.54" y="423.24" font-size="9.90" textLength="21.32" lengthAdjust="spacingAndGlyphs" text-anchor="middle" fill="#000" stroke="#000" stroke-width="0.15">1.1 ft</text>
<text x="420.54" y="432.24" font-size="9.90" textLength="33.90" lengthAdjust="spacingAndGlyphs" text-anchor="middle" fill="#000" stroke="#000" stroke-width="0.15">5:04 am</text>
<circle cx="442.82" cy="119.90" r="1.7" fill="#000"/>
<text x="442.82" y="97.60" font-size="9.90" textLength="39.14" lengthAdjust="spacingAndGlyphs" text-anchor="middle" fill="#000" stroke="#000" stroke-width="0.15">12:03 pm</text>
<text x="442.82" y="106.20" font-size="9.90" textLength="21.32" lengthAdjust="spacingAndGlyphs" text-anchor="middle" fill="#000" stroke="#000" stroke-width="0.15">7.6 ft</text>
<text x="442.82" y="116.50" font-size="9.90" textLength="28.65" lengthAdjust="spacingAndGlyphs" text-anchor="middle" fill="#000" stroke="#000" stroke-width="0.15">2.31 m</text>
<circle cx="461.86" cy="392.84" r="1.7" fill="#000"/>
<text x="461.86" y="403.44" font-size="9.90" textLength="28.65" lengthAdjust="spacingAndGlyphs" text-anchor="middle" fill="#000" stroke="#000" stroke-width="0.15">0.40 m</text>
<text x="461.86" y="413.24" font-size="9.90" textLength="21.32" lengthAdjust="spacingAndGlyphs" text-anchor="middle" fill="#000" stroke="#000" stroke-width="0.15">1.3 ft</text>
<text x="461.86" y="422.24" font-size="9.90" textLength="33.90" lengthAdjust="spacingAndGlyphs" text-anchor="middle" fill="#000" stroke="#000" stroke-width="0.15">6:01 pm</text>
<circle cx="482.70" cy="205.64" r="1.7" fill="#000"/>
<text x="482.70" y="183.34" font-size="9.90" textLength="39.14" lengthAdjust="spacingAndGlyphs" text-anchor="middle" fill="#000" stroke="#000" stroke-width="0.15">12:33 am</text>
<text x="482.70" y="191.94" font-size="9.90" textLength="21.32" lengthAdjust="spacingAndGlyphs" text-anchor="middle" fill="#000" stroke="#000" stroke-width="0.15">5.6 ft</text>
<text x="482.70" y="202.24" font-size="9.90" textLength="28.65" lengthAdjust="spacingAndGlyphs" text-anchor="middle" fill="#000" stroke="#000" stroke-width="0.15">1.71 m</text>
<circle cx="499.51" cy="389.98" r="1.7" fill="#000"/>
<text x="499.51" y="400.58" font-size="9.90" textLength="28.65" lengthAdjust="spacingAndGlyphs" text-anchor="middle" fill="#000" stroke="#000" stroke-width="0.15">0.42 m</text>
<text x="499.51" y="410.38" font-size="9.90" textLength="21.32" lengthAdjust="spacingAndGlyphs" text-anchor="middle" fill="#000" stroke="#000" stroke-width="0.15">1.4 ft</text>
<text x="499.51" y="419.38" font-size="9.90" textLength="33.90" lengthAdjust="spacingAndGlyphs" text-anchor="middle" fill="#000" stroke="#000" stroke-width="0.15">5:49 am</text>
<circle cx="522.32" cy="132.76" r="1.7" fill="#000"/>
<text x="522.32" y="110.46" font-size="9.90" textLength="39.14" lengthAdjust="spacingAndGlyphs" text-anchor="middle" fill="#000" stroke="#000" stroke-width="0.15">12:58 pm</text>
<text x="522.32" y="119.06" font-size="9.90" textLength="21.32" lengthAdjust="spacingAndGlyphs" text-anchor="middle" fill="#000" stroke="#000" stroke-width="0.15">7.3 ft</text>
<text x="522.32" y="129.36" font-size="9.90" textLength="28.65" lengthAdjust="spacingAndGlyphs" text-anchor="middle" fill="#000" stroke="#000" stroke-width="0.15">2.22 m</text>
<circle cx="541.25" cy="372.83" r="1.7" fill="#000"/>
<text x="541.25" y="383.43" font-size="9.90" textLength="28.65" lengthAdjust="spacingAndGlyphs" text-anchor="middle" fill="#000" stroke="#000" stroke-width="0.15">0.54 m</text>
<text x="541.25" y="393.23" font-size="9.90" textLength="21.32" lengthAdjust="spacingAndGlyphs" text-anchor="middle" fill="#000" stroke="#000" stroke-width="0.15">1.8 ft</text>
<text x="541.25" y="402.23" font-size="9.90" textLength="33.90" lengthAdjust="spacingAndGlyphs" text-anchor="middle" fill="#000" stroke="#000" stroke-width="0.15">6:54 pm</text>
<circle cx="562.31" cy="218.50" r="1.7" fill="#000"/>
<text x="562.31" y="196.20" font-size="9.90" textLength="33.90" lengthAdjust="spacingAndGlyphs" text-anchor="middle" fill="#000" stroke="#000" stroke-width="0.15">1:30 am</text>
<text x="562.31" y="204.80" font-size="9.90" textLength="21.32" lengthAdjust="spacingAndGlyphs" text-anchor="middle" fill="#000" stroke="#000" stroke-width="0.15">5.3 ft</text>
<text x="562.31" y="215.10" font-size="9.90" textLength="28.65" lengthAdjust="spacingAndGlyphs" text-anchor="middle" fill="#000" stroke="#000" stroke-width="0.15">1.62 m</text>
<circle cx="578.79" cy="372.83" r="1.7" fill="#000"/>
<text x="578.79" y="383.43" font-size="9.90" textLength="28.65" lengthAdjust="spacingAndGlyphs" text-anchor="middle" fill="#000" stroke="#000" stroke-width="0.15">0.54 m</text>
<text x="578.79" y="393.23" font-size="9.90" textLength="21.32" lengthAdjust="spacingAndGlyphs" text-anchor="middle" fill="#000" stroke="#000" stroke-width="0.15">1.8 ft</text>
<text x="578.79" y="402.23" font-size="9.90" textLength="33.90" lengthAdjust="spacingAndGlyphs" text-anchor="middle" fill="#000" stroke="#000" stroke-width="0.15">6:40 am</text>
<circle cx="602.08" cy="148.48" r="1.7" fill="#000"/>
<text x="602.08" y="126.18" font-size="9.90" textLength="33.90" lengthAdjust="spacingAndGlyphs" text-anchor="middle" fill="#000" stroke="#000" stroke-width="0.15">1:58 pm</text>
<text x="602.08" y="134.78" font-size="9.90" textLength="21.32" lengthAdjust="spacingAndGlyphs" text-anchor="middle" fill="#000" stroke="#000" stroke-width="0.15">6.9 ft</text>
<text x="602.08" y="145.08" font-size="9.90" textLength="28.65" lengthAdjust="spacingAndGlyphs" text-anchor="middle" fill="#000" stroke="#000" stroke-width="0.15">2.11 m</text>
<circle cx="621.38" cy="355.69" r="1.7" fill="#000"/>
<text x="621.38" y="366.29" font-size="9.90" textLength="28.65" lengthAdjust="spacingAndGlyphs" text-anchor="middle" fill="#000" stroke="#000" stroke-width="0.15">0.66 m</text>
<text x="621.38" y="376.09" font-size="9.90" textLength="21.32" lengthAdjust="spacingAndGlyphs" text-anchor="middle" fill="#000" stroke="#000" stroke-width="0.15">2.2 ft</text>
<text x="621.38" y="385.09" font-size="9.90" textLength="33.90" lengthAdjust="spacingAndGlyphs" text-anchor="middle" fill="#000" stroke="#000" stroke-width="0.15">8:01 pm</text>
<circle cx="642.33" cy="225.65" r="1.7" fill="#000"/>
<text x="642.33" y="203.35" font-size="9.90" textLength="33.90" lengthAdjust="spacingAndGlyphs" text-anchor="middle" fill="#000" stroke="#000" stroke-width="0.15">2:35 am</text>
<text x="642.33" y="211.95" font-size="9.90" textLength="21.32" lengthAdjust="spacingAndGlyphs" text-anchor="middle" fill="#000" stroke="#000" stroke-width="0.15">5.2 ft</text>
<text x="642.33" y="222.25" font-size="9.90" textLength="28.65" lengthAdjust="spacingAndGlyphs" text-anchor="middle" fill="#000" stroke="#000" stroke-width="0.15">1.57 m</text>
<circle cx="658.87" cy="355.69" r="1.7" fill="#000"/>
<text x="658.87" y="366.29" font-size="9.90" textLength="28.65" lengthAdjust="spacingAndGlyphs" text-anchor="middle" fill="#000" stroke="#000" stroke-width="0.15">0.66 m</text>
<text x="658.87" y="376.09" font-size="9.90" textLength="21.32" lengthAdjust="spacingAndGlyphs" text-anchor="middle" fill="#000" stroke="#000" stroke-width="0.15">2.2 ft</text>
<text x="658.87" y="385.09" font-size="9.90" textLength="33.90" lengthAdjust="spacingAndGlyphs" text-anchor="middle" fill="#000" stroke="#000" stroke-width="0.15">7:46 am</text>
<circle cx="682.27" cy="162.77" r="1.7" fill="#000"/>
<text x="682.27" y="140.47" font-size="9.90" textLength="33.90" lengthAdjust="spacingAndGlyphs" text-anchor="middle" fill="#000" stroke="#000" stroke-width="0.15">3:06 pm</text>
<text x="682.27" y="149.07" font-size="9.90" textLength="21.32" lengthAdjust="spacingAndGlyphs" text-anchor="middle" fill="#000" stroke="#000" stroke-width="0.15">6.6 ft</text>
<text x="682.27" y="159.37" font-size="9.90" textLength="28.65" lengthAdjust="spacingAndGlyphs" text-anchor="middle" fill="#000" stroke="#000" stroke-width="0.15">2.01 m</text>
<text x="45.8" y="480.0" font-size="11" text-anchor="end" fill="#000">Sunrise</text>
<text x="746.3" y="480.0" font-size="11" fill="#000">Sunrise</text>
<text x="45.8" y="493.9" font-size="11" text-anchor="end" fill="#000">Sunset</text>
<text x="746.3" y="493.9" font-size="11" fill="#000">Sunset</text>
<text x="45.8" y="507.0" font-size="11" text-anchor="end" fill="#000">Moonrise</text>
<text x="746.3" y="507.0" font-size="11" fill="#000">Moonrise</text>
<text x="45.8" y="520.9" font-size="11" text-anchor="end" fill="#000">Moonset</text>
<text x="746.3" y="520.9" font-size="11" fill="#000">Moonset</text>
<polygon points="122.56,468.80 124.56,472.85 129.03,473.50 125.79,476.65 126.56,481.10 122.56,479.00 118.56,481.10 119.33,476.65 116.09,473.50 120.56,472.85" fill="#9a6c10" stroke="#5e5020" stroke-width="0.5"/>
<circle cx="122.56" cy="475.60" r="4.0" fill="#c9c34a" stroke="#946a10" stroke-width="0.8"/>
<text x="129.56" y="479.6" font-size="9.7" letter-spacing="-0.15" fill="#000" stroke="#000" stroke-width="0.1">7:40am</text>
<polygon points="199.24,468.80 201.23,472.85 205.70,473.50 202.47,476.65 203.23,481.10 199.24,479.00 195.24,481.10 196.00,476.65 192.77,473.50 197.24,472.85" fill="#9a6c10" stroke="#5e5020" stroke-width="0.5"/>
<circle cx="199.24" cy="475.60" r="4.0" fill="#c9c34a" stroke="#946a10" stroke-width="0.8"/>
<text x="206.24" y="479.6" font-size="9.7" letter-spacing="-0.15" fill="#000" stroke="#000" stroke-width="0.1">7:42am</text>
<polygon points="275.86,468.80 277.86,472.85 282.33,473.50 279.09,476.65 279.86,481.10 275.86,479.00 271.86,481.10 272.63,476.65 269.39,473.50 273.86,472.85" fill="#9a6c10" stroke="#5e5020" stroke-width="0.5"/>
<circle cx="275.86" cy="475.60" r="4.0" fill="#c9c34a" stroke="#946a10" stroke-width="0.8"/>
<text x="282.86" y="479.6" font-size="9.7" letter-spacing="-0.15" fill="#000" stroke="#000" stroke-width="0.1">7:43am</text>
<polygon points="352.54,468.80 354.53,472.85 359.00,473.50 355.77,476.65 356.53,481.10 352.54,479.00 348.54,481.10 349.30,476.65 346.07,473.50 350.54,472.85" fill="#9a6c10" stroke="#5e5020" stroke-width="0.5"/>
<circle cx="352.54" cy="475.60" r="4.0" fill="#c9c34a" stroke="#946a10" stroke-width="0.8"/>
<text x="359.54" y="479.6" font-size="9.7" letter-spacing="-0.15" fill="#000" stroke="#000" stroke-width="0.1">7:45am</text>
<polygon points="429.16,468.80 431.16,472.85 435.63,473.50 432.39,476.65 433.16,481.10 429.16,479.00 425.16,481.10 425.93,476.65 422.69,473.50 427.16,472.85" fill="#9a6c10" stroke="#5e5020" stroke-width="0.5"/>
<circle cx="429.16" cy="475.60" r="4.0" fill="#c9c34a" stroke="#946a10" stroke-width="0.8"/>
<text x="436.16" y="479.6" font-size="9.7" letter-spacing="-0.15" fill="#000" stroke="#000" stroke-width="0.1">7:46am</text>
<polygon points="505.84,468.80 507.83,472.85 512.30,473.50 509.07,476.65 509.83,481.10 505.84,479.00 501.84,481.10 502.60,476.65 499.37,473.50 503.84,472.85" fill="#9a6c10" stroke="#5e5020" stroke-width="0.5"/>
<circle cx="505.84" cy="475.60" r="4.0" fill="#c9c34a" stroke="#946a10" stroke-width="0.8"/>
<text x="512.84" y="479.6" font-size="9.7" letter-spacing="-0.15" fill="#000" stroke="#000" stroke-width="0.1">7:48am</text>
<polygon points="582.46,468.80 584.46,472.85 588.93,473.50 585.69,476.65 586.46,481.10 582.46,479.00 578.46,481.10 579.22,476.65 575.99,473.50 580.46,472.85" fill="#9a6c10" stroke="#5e5020" stroke-width="0.5"/>
<circle cx="582.46" cy="475.60" r="4.0" fill="#c9c34a" stroke="#946a10" stroke-width="0.8"/>
<text x="589.46" y="479.6" font-size="9.7" letter-spacing="-0.15" fill="#000" stroke="#000" stroke-width="0.1">7:49am</text>
<polygon points="659.13,468.80 661.13,472.85 665.60,473.50 662.37,476.65 663.13,481.10 659.13,479.00 655.14,481.10 655.90,476.65 652.67,473.50 657.14,472.85" fill="#9a6c10" stroke="#5e5020" stroke-width="0.5"/>
<circle cx="659.13" cy="475.60" r="4.0" fill="#c9c34a" stroke="#946a10" stroke-width="0.8"/>
<text x="666.13" y="479.6" font-size="9.7" letter-spacing="-0.15" fill="#000" stroke="#000" stroke-width="0.1">7:51am</text>
<polygon points="155.53,482.70 157.53,486.75 161.99,487.40 158.76,490.55 159.52,495.00 155.53,492.90 151.53,495.00 152.29,490.55 149.06,487.40 153.53,486.75" fill="#8a7416" stroke="#4a4a18" stroke-width="0.4"/>
<circle cx="155.53" cy="489.50" r="4.0" fill="#dd3322" stroke="#6a6018" stroke-width="0.8"/>
<text x="162.53" y="493.5" font-size="9.7" letter-spacing="-0.15" fill="#000" stroke="#000" stroke-width="0.1">6:00pm</text>
<polygon points="231.99,482.70 233.99,486.75 238.46,487.40 235.22,490.55 235.99,495.00 231.99,492.90 227.99,495.00 228.76,490.55 225.52,487.40 229.99,486.75" fill="#8a7416" stroke="#4a4a18" stroke-width="0.4"/>
<circle cx="231.99" cy="489.50" r="4.0" fill="#dd3322" stroke="#6a6018" stroke-width="0.8"/>
<text x="238.99" y="493.5" font-size="9.7" letter-spacing="-0.15" fill="#000" stroke="#000" stroke-width="0.1">5:58pm</text>
<polygon points="308.45,482.70 310.45,486.75 314.92,487.40 311.69,490.55 312.45,495.00 308.45,492.90 304.46,495.00 305.22,490.55 301.99,487.40 306.46,486.75" fill="#8a7416" stroke="#4a4a18" stroke-width="0.4"/>
<circle cx="308.45" cy="489.50" r="4.0" fill="#dd3322" stroke="#6a6018" stroke-width="0.8"/>
<text x="315.45" y="493.5" font-size="9.7" letter-spacing="-0.15" fill="#000" stroke="#000" stroke-width="0.1">5:56pm</text>
<polygon points="384.97,482.70 386.97,486.75 391.44,487.40 388.21,490.55 388.97,495.00 384.97,492.90 380.97,495.00 381.74,490.55 378.50,487.40 382.97,486.75" fill="#8a7416" stroke="#4a4a18" stroke-width="0.4"/>
<circle cx="384.97" cy="489.50" r="4.0" fill="#dd3322" stroke="#6a6018" stroke-width="0.8"/>
<text x="391.97" y="493.5" font-size="9.7" letter-spacing="-0.15" fill="#000" stroke="#000" stroke-width="0.1">5:55pm</text>
<polygon points="461.44,482.70 463.43,486.75 467.90,487.40 464.67,490.55 465.43,495.00 461.44,492.90 457.44,495.00 458.20,490.55 454.97,487.40 459.44,486.75" fill="#8a7416" stroke="#4a4a18" stroke-width="0.4"/>
<circle cx="461.44" cy="489.50" r="4.0" fill="#dd3322" stroke="#6a6018" stroke-width="0.8"/>
<text x="468.44" y="493.5" font-size="9.7" letter-spacing="-0.15" fill="#000" stroke="#000" stroke-width="0.1">5:53pm</text>
<polygon points="537.90,482.70 539.90,486.75 544.37,487.40 541.13,490.55 541.90,495.00 537.90,492.90 533.90,495.00 534.67,490.55 531.43,487.40 535.90,486.75" fill="#8a7416" stroke="#4a4a18" stroke-width="0.4"/>
<circle cx="537.90" cy="489.50" r="4.0" fill="#dd3322" stroke="#6a6018" stroke-width="0.8"/>
<text x="544.90" y="493.5" font-size="9.7" letter-spacing="-0.15" fill="#000" stroke="#000" stroke-width="0.1">5:51pm</text>
<polygon points="614.42,482.70 616.41,486.75 620.88,487.40 617.65,490.55 618.41,495.00 614.42,492.90 610.42,495.00 611.18,490.55 607.95,487.40 612.42,486.75" fill="#8a7416" stroke="#4a4a18" stroke-width="0.4"/>
<circle cx="614.42" cy="489.50" r="4.0" fill="#dd3322" stroke="#6a6018" stroke-width="0.8"/>
<text x="621.42" y="493.5" font-size="9.7" letter-spacing="-0.15" fill="#000" stroke="#000" stroke-width="0.1">5:50pm</text>
<polygon points="690.88,482.70 692.88,486.75 697.35,487.40 694.11,490.55 694.88,495.00 690.88,492.90 686.88,495.00 687.65,490.55 684.41,487.40 688.88,486.75" fill="#8a7416" stroke="#4a4a18" stroke-width="0.4"/>
<circle cx="690.88" cy="489.50" r="4.0" fill="#dd3322" stroke="#6a6018" stroke-width="0.8"/>
<text x="697.88" y="493.5" font-size="9.7" letter-spacing="-0.15" fill="#000" stroke="#000" stroke-width="0.1">5:48pm</text>
<circle cx="122.61" cy="502.80" r="5.0" fill="#ffffc4" stroke="#85857a" stroke-width="1.1"/>
<text x="129.41" y="506.6" font-size="9.7" letter-spacing="-0.15" fill="#000" stroke="#000" stroke-width="0.1">7:41am</text>
<circle cx="203.44" cy="502.80" r="5.0" fill="#ffffc4" stroke="#85857a" stroke-width="1.1"/>
<text x="210.24" y="506.6" font-size="9.7" letter-spacing="-0.15" fill="#000" stroke="#000" stroke-width="0.1">9:01am</text>
<circle cx="284.42" cy="502.80" r="5.0" fill="#ffffc4" stroke="#85857a" stroke-width="1.1"/>
<text x="291.22" y="506.6" font-size="9.7" letter-spacing="-0.15" fill="#000" stroke="#000" stroke-width="0.1">10:24am</text>
<circle cx="365.35" cy="502.80" r="5.0" fill="#ffffc4" stroke="#85857a" stroke-width="1.1"/>
<text x="372.15" y="506.6" font-size="9.7" letter-spacing="-0.15" fill="#000" stroke="#000" stroke-width="0.1">11:46am</text>
<circle cx="445.86" cy="502.80" r="5.0" fill="#ffffc4" stroke="#85857a" stroke-width="1.1"/>
<text x="452.66" y="506.6" font-size="9.7" letter-spacing="-0.15" fill="#000" stroke="#000" stroke-width="0.1">1:00pm</text>
<circle cx="525.72" cy="502.80" r="5.0" fill="#ffffc4" stroke="#85857a" stroke-width="1.1"/>
<text x="532.52" y="506.6" font-size="9.7" letter-spacing="-0.15" fill="#000" stroke="#000" stroke-width="0.1">2:02pm</text>
<circle cx="604.79" cy="502.80" r="5.0" fill="#ffffc4" stroke="#85857a" stroke-width="1.1"/>
<text x="611.59" y="506.6" font-size="9.7" letter-spacing="-0.15" fill="#000" stroke="#000" stroke-width="0.1">2:49pm</text>
<circle cx="683.17" cy="502.80" r="5.0" fill="#ffffc4" stroke="#85857a" stroke-width="1.1"/>
<text x="689.97" y="506.6" font-size="9.7" letter-spacing="-0.15" fill="#000" stroke="#000" stroke-width="0.1">3:23pm</text>
<circle cx="156.01" cy="516.40" r="4.9" fill="#c8c6b4" stroke="#66665e" stroke-width="1.1"/>
<text x="162.81" y="521.1" font-size="9.7" letter-spacing="-0.15" fill="#000" stroke="#000" stroke-width="0.1">6:09pm</text>
<circle cx="233.80" cy="516.40" r="4.9" fill="#c8c6b4" stroke="#66665e" stroke-width="1.1"/>
<text x="240.60" y="521.1" font-size="9.7" letter-spacing="-0.15" fill="#000" stroke="#000" stroke-width="0.1">6:32pm</text>
<circle cx="311.96" cy="516.40" r="4.9" fill="#c8c6b4" stroke="#66665e" stroke-width="1.1"/>
<text x="318.76" y="521.1" font-size="9.7" letter-spacing="-0.15" fill="#000" stroke="#000" stroke-width="0.1">7:02pm</text>
<circle cx="390.71" cy="516.40" r="4.9" fill="#c8c6b4" stroke="#66665e" stroke-width="1.1"/>
<text x="397.51" y="521.1" font-size="9.7" letter-spacing="-0.15" fill="#000" stroke="#000" stroke-width="0.1">7:43pm</text>
<circle cx="470.21" cy="516.40" r="4.9" fill="#c8c6b4" stroke="#66665e" stroke-width="1.1"/>
<text x="477.01" y="521.1" font-size="9.7" letter-spacing="-0.15" fill="#000" stroke="#000" stroke-width="0.1">8:38pm</text>
<circle cx="550.45" cy="516.40" r="4.9" fill="#c8c6b4" stroke="#66665e" stroke-width="1.1"/>
<text x="557.25" y="521.1" font-size="9.7" letter-spacing="-0.15" fill="#000" stroke="#000" stroke-width="0.1">9:47pm</text>
<circle cx="631.17" cy="516.40" r="4.9" fill="#c8c6b4" stroke="#66665e" stroke-width="1.1"/>
<text x="637.97" y="521.1" font-size="9.7" letter-spacing="-0.15" fill="#000" stroke="#000" stroke-width="0.1">11:05pm</text>
<text x="76.1" y="533.5" font-size="9.25" fill="#000">New Moon | 8:18am</text>
<text x="591" y="533.7" font-size="9.25" fill="#000">First Quarter | 4:08am</text>
</svg></body></html>
